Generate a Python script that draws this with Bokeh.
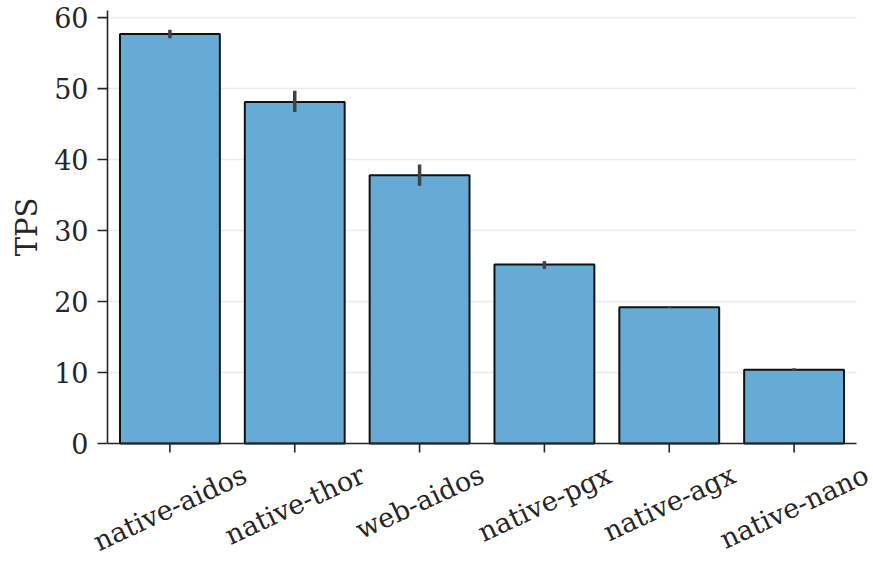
import math
from bokeh.plotting import figure
from bokeh.models import ColumnDataSource, Range1d, Label
from bokeh.embed import file_html
from bokeh.resources import INLINE

categories = ["native-aidos", "native-thor", "web-aidos", "native-pgx", "native-agx", "native-nano"]
tps = [57.7, 48.1, 37.8, 25.2, 19.2, 10.4]
err_low = [57.1, 46.7, 36.3, 24.6, 19.1, 10.25]
err_high = [58.3, 49.7, 39.3, 25.7, 19.35, 10.6]
y_ticks = [0, 10, 20, 30, 40, 50, 60]
y_title = "TPS"

FONT = "DejaVu Serif"
TXT = "#262626"
TICK_FS = 27
XTICK_FS = 27
LABEL_FS = 29
ANGLE_DEG = 25

# layout (screen pixels)
W_PX, H_PX = 873, 563
AX_LEFT, AX_RIGHT = 107, 856     # x-axis extent
AX_TOP, AX_ZERO = 10, 443        # y-axis extent (top of axis, row of value 0)
Y_TOP = 61.0
TICK_PX = 10
XTICK_PX = 9

n = len(categories)
px_per_cat = (AX_RIGHT - AX_LEFT) / n
px_per_unit = (AX_ZERO - AX_TOP) / Y_TOP
x_range = Range1d(-AX_LEFT / px_per_cat, n + (W_PX - AX_RIGHT) / px_per_cat)
y_range = Range1d(-(H_PX - AX_ZERO) / px_per_unit, AX_ZERO / px_per_unit)

xc = [i + 0.5 for i in range(n)]   # category centres on the categorical axis
src = ColumnDataSource(dict(x=xc, cat=categories, tps=tps, lo=err_low, hi=err_high))

p = figure(x_range=x_range, y_range=y_range, width=W_PX, height=H_PX,
           output_backend="svg", toolbar_location=None,
           x_axis_location=None, y_axis_location=None,
           min_border_left=0, min_border_right=0, min_border_top=0, min_border_bottom=0)
p.outline_line_color = None
p.background_fill_color = "white"
p.border_fill_color = "white"
p.xgrid.visible = False
p.ygrid.visible = False

# horizontal grid lines
p.segment(x0=[0] * len(y_ticks), y0=y_ticks, x1=[n] * len(y_ticks), y1=y_ticks,
          line_color="#ebebeb", line_width=1.5)

# x tick marks
p.segment(x0=xc, y0=[0] * n, x1=xc, y1=[-XTICK_PX / px_per_unit] * n,
          line_color=TXT, line_width=1.6)

p.vbar(x="x", top="tps", width=0.8, source=src, fill_color="#66aad6",
       line_color="#111111", line_width=2)
p.segment(x0="x", y0="lo", x1="x", y1="hi", source=src,
          line_color="#424242", line_width=3.5)

# x-axis line
p.segment(x0=[0], y0=[0], x1=[n], y1=[0], line_color=TXT, line_width=1.6)
# y-axis line and ticks
p.segment(x0=[0], y0=[0], x1=[0], y1=[Y_TOP], line_color=TXT, line_width=1.6)
p.segment(x0=[0] * len(y_ticks), y0=y_ticks, x1=[-TICK_PX / px_per_cat] * len(y_ticks),
          y1=y_ticks, line_color=TXT, line_width=1.6)

for t in y_ticks:
    p.add_layout(Label(x=0, y=t, x_offset=-(TICK_PX + 9), text=str(t),
                       text_align="right", text_baseline="middle",
                       text_font=FONT, text_font_size=f"{TICK_FS}px", text_color=TXT))

p.add_layout(Label(x=0, y=Y_TOP / 2, x_offset=-81, text=y_title, angle=math.pi / 2,
                   text_align="center", text_baseline="middle",
                   text_font=FONT, text_font_size=f"{LABEL_FS}px", text_color=TXT))

# approximate DejaVu Serif advance widths (em) to centre rotated labels like matplotlib
W = {'a': 0.596, 'b': 0.640, 'd': 0.640, 'e': 0.592, 'g': 0.640, 'h': 0.644, 'i': 0.320,
     'n': 0.644, 'o': 0.602, 'p': 0.640, 'r': 0.478, 's': 0.513, 't': 0.402, 'v': 0.592,
     'w': 0.856, 'x': 0.592, '-': 0.338}
a = math.radians(ANGLE_DEG)
H = 1.164 * XTICK_FS
TOP_GAP = 15
for x, c in zip(xc, categories):
    L = sum(W.get(ch, 0.6) for ch in c) * XTICK_FS
    bbox_h = L * math.sin(a) + H * math.cos(a)
    p.add_layout(Label(x=x, y=0, y_offset=-(TOP_GAP + bbox_h / 2), text=c, angle=a,
                       text_align="center", text_baseline="middle",
                       text_font=FONT, text_font_size=f"{XTICK_FS}px", text_color=TXT))

open("out.html", "w").write(file_html(p, INLINE))
